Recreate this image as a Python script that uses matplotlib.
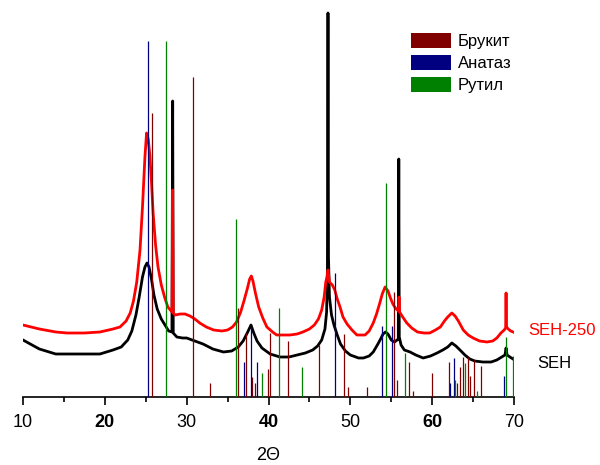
import matplotlib
matplotlib.use('Agg')
import matplotlib.pyplot as plt
from matplotlib.patches import Patch

plt.rcParams['font.family'] = ['Liberation Sans', 'DejaVu Sans']

# Measured XRD patterns (2-theta, intensity in arbitrary units)
seh_2theta = [10.0, 12.0, 14.0, 17.0, 19.4, 21.0, 22.0, 22.8, 23.3, 23.8,
              24.2, 24.6, 24.9, 25.15, 25.4, 25.7, 26.0, 26.4, 26.9, 27.35,
              27.8, 28.2, 28.29, 28.36, 28.8, 29.5, 30.0, 31.0, 32.0, 33.2,
              34.5, 35.5, 36.3, 36.9, 37.4, 37.86, 38.2, 38.6, 39.2, 40.2,
              41.4, 42.5, 43.5, 44.5, 45.4, 46.0, 46.5, 46.9, 47.1, 47.2,
              47.27, 47.33, 47.45, 47.7, 48.0, 48.4, 48.8, 49.4, 50.0, 51.0,
              51.6, 52.3, 52.8, 53.3, 53.7, 54.0, 54.3, 54.6, 55.0, 55.4,
              55.86, 55.92, 55.98, 56.2, 56.6, 57.3, 58.0, 58.9, 59.8, 60.6,
              61.3, 61.9, 62.4, 62.9, 63.4, 64.0, 64.6, 65.2, 66.2, 67.2,
              67.9, 68.5, 68.9, 69.03, 69.15, 69.5, 69.88]
seh_int = [57, 48, 43, 43, 43, 47, 50, 57, 66, 82,
           100, 120, 130, 134, 130, 118, 102, 88, 78, 72,
           66, 65, 296, 64, 60, 59, 59, 56, 53, 48,
           45, 46, 50, 56, 64, 72, 64, 56, 49, 43,
           40, 40, 42, 44, 47, 51, 57, 68, 85, 127,
           384, 140, 100, 82, 72, 62, 53, 46, 42, 39,
           39, 41, 45, 52, 58, 63, 65, 63, 57, 55,
           58, 238, 60, 52, 47, 45, 42, 39, 41, 44,
           47, 50, 54, 51, 47, 42, 38, 36, 35, 35,
           37, 40, 42, 49, 42, 40, 38]

seh250_2theta = [10.0, 12.0, 14.0, 15.4, 17.5, 19.4, 21.0, 21.85, 22.6, 23.1,
                 23.5, 23.9, 24.3, 24.6, 24.9, 25.1, 25.3, 25.5, 25.7, 25.9,
                 26.2, 26.5, 26.9, 27.3, 27.7, 28.1, 28.22, 28.29, 28.36, 28.6,
                 29.2, 29.8, 30.4, 31.0, 31.6, 32.4, 33.3, 34.3, 35.0, 35.6,
                 36.1, 36.6, 37.0, 37.4, 37.7, 37.9, 38.1, 38.4, 38.8, 39.3,
                 39.8, 40.5, 41.0, 42.0, 42.6, 43.5, 44.2, 45.0, 45.6, 46.1,
                 46.5, 46.8, 47.0, 47.15, 47.27, 47.45, 47.8, 48.1, 48.4, 48.74,
                 49.1, 49.6, 50.2, 50.8, 51.4, 51.8, 52.3, 52.8, 53.2, 53.6,
                 53.9, 54.25, 54.6, 54.9, 55.2, 55.5, 55.88, 55.95, 56.02, 56.4,
                 56.9, 57.5, 58.2, 59.0, 59.7, 60.4, 61.0, 61.5, 61.9, 62.4,
                 62.8, 63.2, 63.8, 64.4, 65.0, 65.8, 66.7, 67.4, 67.9, 68.4,
                 68.8, 68.98, 69.03, 69.08, 69.3, 69.6, 69.9]
seh250_int = [72, 68, 65, 64, 64, 65, 68, 70, 76, 84,
              96, 115, 147, 190, 240, 264, 258, 242, 215, 184,
              152, 130, 112, 100, 90, 86, 85, 207, 84, 82,
              83, 83, 81, 78, 74, 70, 67, 66, 67, 70,
              75, 85, 96, 108, 118, 121, 116, 104, 90, 79,
              70, 65, 62, 62, 62, 63, 65, 68, 72, 78,
              87, 100, 115, 120, 127, 115, 112, 107, 98, 90,
              80, 73, 67, 62, 62, 62, 66, 74, 83, 94,
              103, 110, 106, 99, 93, 89, 86, 100, 85, 80,
              74, 69, 65, 64, 64, 67, 70, 76, 80, 84,
              81, 76, 67, 62, 59, 56, 55, 56, 59, 64,
              67, 69, 104, 70, 68, 66, 65]

# Reference stick patterns
anatase_pos = [25.31, 36.97, 37.82, 38.60, 48.07, 53.90, 55.08, 62.15, 62.72, 68.72]
anatase_int = [356, 35, 70, 35, 124, 71, 71, 14, 39, 21]

rutile_pos = [27.48, 36.08, 39.20, 41.25, 44.08, 54.36, 56.64, 62.78, 64.05, 65.45,
              69.03, 69.85]
rutile_int = [356, 178, 24, 89, 30, 214, 44, 17, 34, 6, 60, 41]

brookite_pos = [25.72, 30.80, 32.85, 36.33, 37.30, 37.97, 38.40, 39.98, 40.18, 42.36,
                46.15, 49.17, 49.72, 52.02, 55.30, 55.75, 57.20, 57.70, 59.98, 62.08,
                63.07, 63.44, 63.73, 64.34, 64.63, 65.08, 65.93]
brookite_int = [284, 320, 14, 89, 64, 20, 14, 28, 64, 56,
                52, 63, 10, 10, 105, 17, 35, 6, 24, 35,
                14, 30, 40, 40, 21, 37, 31]

phase_labels = ['Брукит', 'Анатаз', 'Рутил']
phase_colors = ['#800000', '#000080', '#008000']

x_ticks = [10, 20, 30, 40, 50, 60, 70]
x_minor = [15, 25, 35, 45, 55, 65]
bold_ticks = ['20', '40', '60']

fig = plt.figure(figsize=(6, 4.65), dpi=100)
ax = fig.add_axes([23 / 600, 68 / 465, 491 / 600, 397 / 465])

ax.plot(seh_2theta, seh_int, color='black', lw=2.0, zorder=2,
        solid_joinstyle='round')
ax.plot(seh250_2theta, seh250_int, color='#ff0000', lw=2.0, zorder=3,
        solid_joinstyle='round')

ax.vlines(brookite_pos, 0, brookite_int, colors=phase_colors[0], lw=0.9, zorder=4)
ax.vlines(anatase_pos, 0, anatase_int, colors=phase_colors[1], lw=0.9, zorder=4)
ax.vlines(rutile_pos, 0, rutile_int, colors=phase_colors[2], lw=0.9, zorder=4)

ax.set_xlim(10, 70)
ax.set_ylim(0, 397)

for side in ['top', 'left', 'right']:
    ax.spines[side].set_visible(False)
ax.spines['bottom'].set_linewidth(1.2)
ax.set_yticks([])

ax.set_xticks(x_ticks)
ax.set_xticks(x_minor, minor=True)
ax.set_xticklabels([str(t) for t in x_ticks])
ax.tick_params(axis='x', which='major', direction='out', length=6, width=1.2,
               labelsize=13, pad=6)
ax.tick_params(axis='x', which='minor', direction='out', length=3.5, width=1.2)
for lbl in ax.get_xticklabels():
    if lbl.get_text() in bold_ticks:
        lbl.set_fontweight('bold')

ax.set_xlabel('2Θ', fontsize=13, labelpad=12)

handles = [Patch(facecolor=c, edgecolor='none') for c in phase_colors]
fig.legend(handles, phase_labels, loc='upper left',
           bbox_to_anchor=(411 / 600, 1 - 33 / 465), bbox_transform=fig.transFigure,
           frameon=False, fontsize=12, handlelength=2.4, handleheight=1.0,
           handletextpad=0.4, labelspacing=0.35, borderpad=0, borderaxespad=0)

fig.text(528 / 600, 1 - 330 / 465, 'SEH-250', color='#ff0000', fontsize=12,
         ha='left', va='center')
fig.text(537 / 600, 1 - 363 / 465, 'SEH', color='black', fontsize=12,
         ha='left', va='center')

fig.savefig('out.png', dpi=100)
